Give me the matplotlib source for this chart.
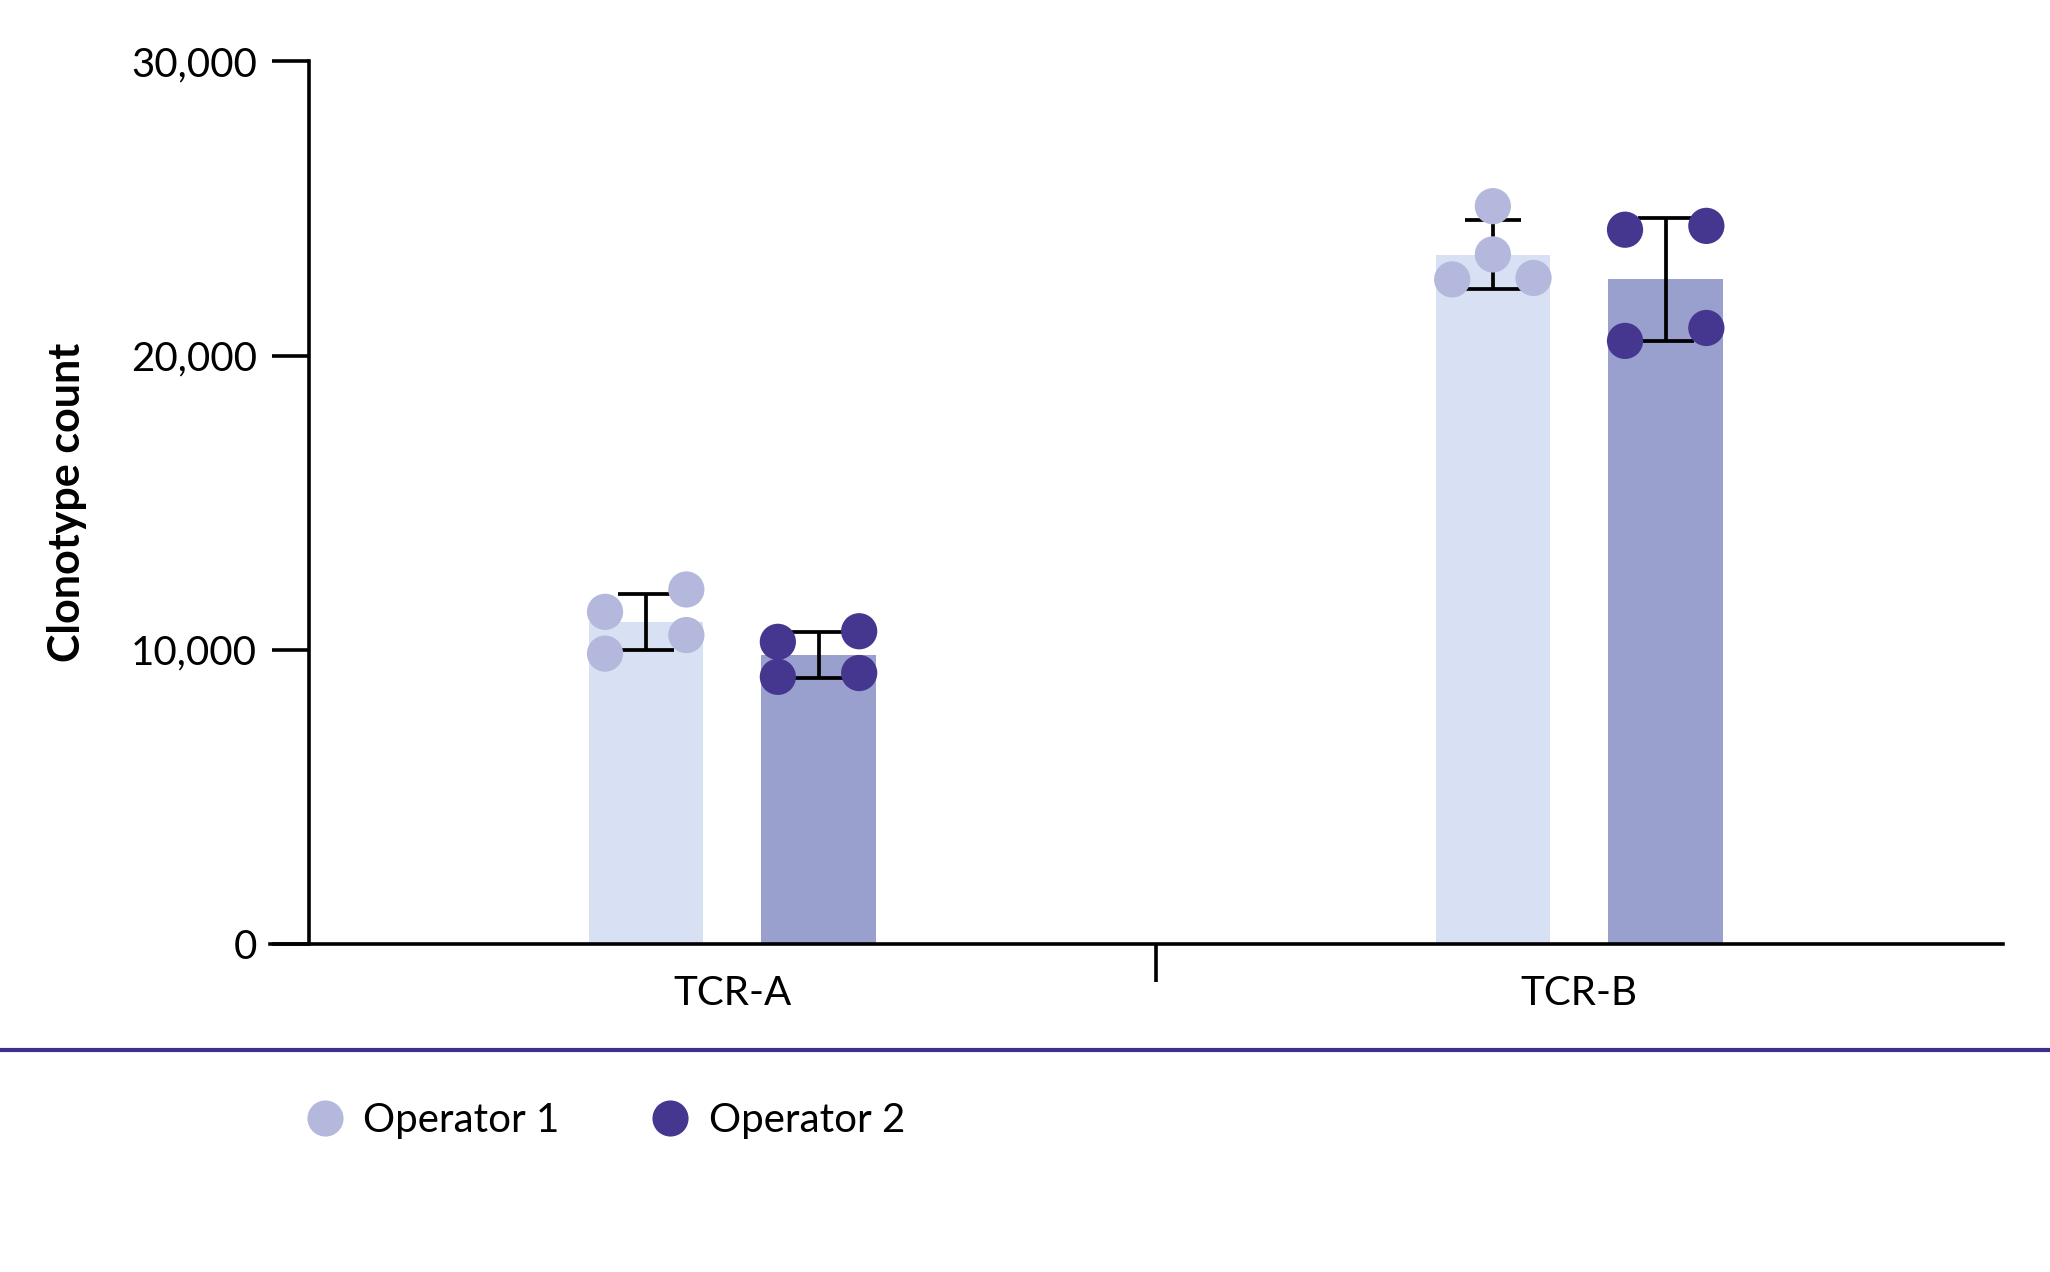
import matplotlib
matplotlib.use("Agg")
import matplotlib.pyplot as plt
from matplotlib.lines import Line2D
import numpy as np

plt.rcParams['font.family'] = ['Lato', 'DejaVu Sans']

categories = ["TCR-A", "TCR-B"]
operators = ["Operator 1", "Operator 2"]

# bar means
op1_means = [10950, 23430]
op2_means = [9830, 22590]
# error bar half-widths (SD)
op1_err = [950, 1180]
op2_err = [780, 2090]
# individual replicate points per category
op1_points = [[11290, 12050, 9870, 10500], [25080, 23440, 22590, 22640]]
op2_points = [[10270, 10630, 9080, 9210], [24280, 24410, 20500, 20940]]
# horizontal jitter pattern of the points
op1_jitter = [[-1, 1, -1, 1], [0, 0, -1, 1]]
op2_jitter = [[-1, 1, -1, 1], [-1, 1, -1, 1]]

yticks = [0, 10000, 20000, 30000]
ytick_labels = ["0", "10,000", "20,000", "30,000"]

bar_fill = ["#D8E1F3", "#99A0CD"]
point_col = ["#B4B8DC", "#45368F"]

fig = plt.figure(figsize=(20.5, 12.72), dpi=100)
ax = fig.add_axes([0.1505, 0.2579, 0.977 - 0.1505, 0.9517 - 0.2579])

x = np.arange(len(categories))
offset = 0.102
width = 0.135
jit = 0.048

series = [
    (op1_means, op1_err, op1_points, op1_jitter),
    (op2_means, op2_err, op2_points, op2_jitter),
]
for i, (means, errs, pts, jits) in enumerate(series):
    xs = x + (-offset if i == 0 else offset)
    ax.bar(xs, means, width=width, color=bar_fill[i], zorder=1)
    ax.errorbar(xs, means, yerr=errs, fmt='none', ecolor='black',
                elinewidth=2.7, capsize=20, capthick=2.7, zorder=2)
    for j, xc in enumerate(xs):
        px = [xc + jj * jit for jj in jits[j]]
        ax.scatter(px, pts[j], s=680, color=point_col[i], edgecolors='none',
                   zorder=3, clip_on=False)

ax.set_xlim(-0.5, 1.5)
ax.set_ylim(0, 30000)
ax.set_yticks(yticks)
ax.set_yticklabels(ytick_labels)
ax.tick_params(axis='y', length=27, width=2.6, labelsize=29, pad=10, direction='out')

ax.set_xticks([0.5])
ax.set_xticklabels([""])
ax.tick_params(axis='x', which='major', length=27, width=2.6, direction='out')
ax.set_xticks(x, minor=True)
ax.set_xticklabels(categories, minor=True)
ax.tick_params(axis='x', which='minor', length=0, labelsize=29, pad=22)

for s in ['top', 'right']:
    ax.spines[s].set_visible(False)
for s in ['left', 'bottom']:
    ax.spines[s].set_linewidth(2.6)
ax.spines['bottom'].set_bounds(-0.5 - 0.045, 1.5)

ax.set_ylabel("Clonotype count", fontsize=31, fontweight='bold')
ax.yaxis.set_label_coords(-0.131, 0.5)

# separator line
fig.add_artist(Line2D([0, 1], [0.1745, 0.1745], transform=fig.transFigure,
                      color="#3D2F8A", linewidth=3.0))

handles = [Line2D([], [], linestyle='none', marker='o', markersize=26,
                  markerfacecolor=point_col[k], markeredgecolor='none')
           for k in range(2)]
fig.legend(handles, operators, loc='center left', bbox_to_anchor=(0.131, 0.119),
           ncol=2, frameon=False, fontsize=29, handletextpad=0.45,
           columnspacing=2.25, handlelength=1.0)

fig.savefig("out.png", dpi=100)
